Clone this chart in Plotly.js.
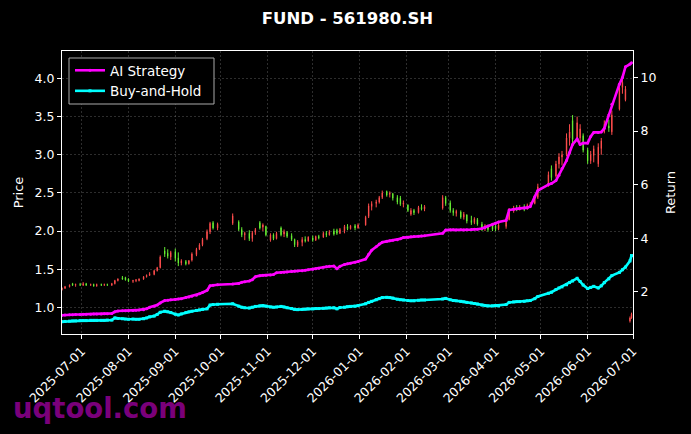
<!DOCTYPE html>
<html><head><meta charset="utf-8">
<script src="https://cdn.plot.ly/plotly-3.0.1.min.js"></script>
<style>html,body{margin:0;padding:0;background:#000;}#chart{width:691px;height:434px;}</style>
</head><body><div id="chart"></div>
<script>
const dates = [
'2025-06-18','2025-06-20','2025-06-23','2025-06-25','2025-06-27','2025-06-30',
'2025-07-02','2025-07-04','2025-07-07','2025-07-09','2025-07-11','2025-07-14','2025-07-16','2025-07-18','2025-07-21','2025-07-23','2025-07-25','2025-07-28','2025-07-30',
'2025-08-01','2025-08-04','2025-08-06','2025-08-08','2025-08-11','2025-08-13','2025-08-15','2025-08-18','2025-08-20','2025-08-22','2025-08-25','2025-08-27','2025-08-29',
'2025-09-01','2025-09-03','2025-09-05','2025-09-08','2025-09-10','2025-09-12','2025-09-15','2025-09-17','2025-09-19','2025-09-22','2025-09-24','2025-09-26','2025-09-29',
'2025-10-09','2025-10-13','2025-10-15','2025-10-17','2025-10-20','2025-10-22','2025-10-24','2025-10-27','2025-10-29','2025-10-31',
'2025-11-03','2025-11-05','2025-11-07','2025-11-10','2025-11-12','2025-11-14','2025-11-17','2025-11-19','2025-11-21','2025-11-24','2025-11-26','2025-11-28',
'2025-12-01','2025-12-03','2025-12-05','2025-12-08','2025-12-10','2025-12-12','2025-12-15','2025-12-17','2025-12-19','2025-12-22','2025-12-24','2025-12-26','2025-12-29','2025-12-31',
'2026-01-05','2026-01-07','2026-01-09','2026-01-12','2026-01-14','2026-01-16','2026-01-19','2026-01-21','2026-01-23','2026-01-26','2026-01-28','2026-01-30',
'2026-02-02','2026-02-04','2026-02-06','2026-02-09','2026-02-11','2026-02-13','2026-02-25','2026-02-27',
'2026-03-02','2026-03-04','2026-03-06','2026-03-09','2026-03-11','2026-03-13','2026-03-16','2026-03-18','2026-03-20','2026-03-23','2026-03-25','2026-03-27','2026-03-30',
'2026-04-01','2026-04-03','2026-04-08','2026-04-10','2026-04-13','2026-04-15','2026-04-17','2026-04-20','2026-04-22','2026-04-24','2026-04-27','2026-04-29',
'2026-05-06','2026-05-08','2026-05-11','2026-05-13','2026-05-15','2026-05-18','2026-05-20','2026-05-22','2026-05-25','2026-05-27','2026-05-29',
'2026-06-01','2026-06-03','2026-06-05','2026-06-08','2026-06-10','2026-06-12','2026-06-15','2026-06-17','2026-06-22','2026-06-24','2026-06-26','2026-06-29','2026-06-30'
];
const openP = [
1.23,1.25,1.27,1.31,1.29,1.30,
1.29,1.31,1.29,1.30,1.28,1.30,1.29,1.30,1.29,1.31,1.35,1.39,1.39,
1.37,1.34,1.35,1.35,1.37,1.40,1.42,1.43,1.48,1.52,1.74,1.71,1.66,
1.73,1.65,1.58,1.60,1.57,1.62,1.69,1.76,1.82,1.90,1.99,2.11,2.04,
2.10,2.12,2.02,1.95,1.97,1.90,1.98,2.11,2.05,2.06,
1.88,1.95,1.90,2.04,1.96,1.98,1.94,1.89,1.81,1.85,1.89,1.87,
1.91,1.88,1.93,1.92,1.97,1.95,2.00,2.01,1.97,2.00,2.06,2.03,2.07,2.04,
2.08,2.19,2.32,2.36,2.38,2.44,2.52,2.48,2.49,2.44,2.43,2.35,
2.34,2.22,2.27,2.24,2.31,2.29,2.30,2.44,
2.37,2.27,2.23,2.25,2.18,2.21,2.14,2.11,2.15,2.09,2.03,2.07,2.08,
2.07,2.03,2.06,2.15,2.27,2.30,2.28,2.32,2.29,2.34,2.36,2.44,
2.60,2.82,2.72,2.88,2.97,3.00,3.22,3.45,3.22,3.22,3.25,
3.06,2.92,2.99,2.88,3.08,3.30,3.38,3.30,3.60,3.88,3.72,0.82,0.86
];
const highP = [
1.26,1.28,1.30,1.32,1.31,1.32,
1.33,1.32,1.31,1.31,1.31,1.31,1.31,1.31,1.32,1.36,1.38,1.41,1.40,
1.38,1.36,1.37,1.38,1.41,1.43,1.46,1.49,1.53,1.68,1.79,1.76,1.74,
1.77,1.72,1.63,1.62,1.62,1.72,1.78,1.84,1.91,2.02,2.12,2.13,2.11,
2.23,2.14,2.05,1.99,2.01,2.00,2.04,2.13,2.10,2.07,
1.97,1.97,1.99,2.06,2.02,2.00,1.97,1.90,1.88,1.92,1.93,1.93,
1.94,1.94,1.95,1.99,2.00,2.01,2.03,2.03,2.04,2.08,2.09,2.08,2.09,2.10,
2.20,2.36,2.39,2.41,2.46,2.53,2.53,2.52,2.50,2.47,2.46,2.40,
2.35,2.30,2.29,2.33,2.35,2.34,2.47,2.46,
2.40,2.30,2.28,2.27,2.25,2.22,2.20,2.18,2.17,2.12,2.09,2.08,2.10,
2.09,2.12,2.16,2.30,2.33,2.34,2.34,2.35,2.36,2.38,2.46,2.62,
2.78,2.86,2.92,3.02,3.05,3.28,3.40,3.52,3.50,3.40,3.28,
3.09,3.05,3.12,3.15,3.22,3.45,3.46,3.58,3.92,4.05,3.90,0.88,0.93
];
const lowP = [
1.22,1.24,1.26,1.28,1.27,1.28,
1.28,1.28,1.28,1.27,1.27,1.28,1.28,1.28,1.28,1.30,1.34,1.36,1.35,
1.33,1.32,1.33,1.34,1.36,1.39,1.41,1.42,1.47,1.51,1.66,1.64,1.62,
1.60,1.54,1.55,1.55,1.56,1.60,1.67,1.75,1.80,1.88,1.96,2.02,2.01,
2.08,2.00,1.92,1.88,1.87,1.86,1.95,2.02,2.00,1.93,
1.86,1.88,1.89,1.93,1.92,1.91,1.87,1.79,1.79,1.80,1.85,1.86,
1.86,1.87,1.89,1.91,1.92,1.94,1.94,1.95,1.96,1.97,2.01,2.02,2.01,2.03,
2.07,2.17,2.27,2.31,2.36,2.42,2.45,2.44,2.40,2.35,2.33,2.31,
2.25,2.20,2.21,2.23,2.27,2.26,2.28,2.33,
2.24,2.20,2.19,2.16,2.15,2.10,2.08,2.09,2.07,2.00,2.00,1.99,2.00,
2.00,2.01,2.03,2.14,2.24,2.26,2.27,2.26,2.28,2.30,2.35,2.42,
2.58,2.66,2.70,2.82,2.86,2.98,3.12,3.15,3.18,3.17,3.03,
2.88,2.88,2.90,2.84,3.00,3.28,3.30,3.26,3.58,3.80,3.70,0.80,0.85
];
const closeP = [
1.25,1.27,1.29,1.29,1.30,1.29,
1.31,1.29,1.30,1.28,1.30,1.29,1.30,1.29,1.31,1.35,1.37,1.37,1.36,
1.34,1.35,1.36,1.37,1.40,1.42,1.44,1.48,1.52,1.66,1.70,1.67,1.72,
1.64,1.58,1.61,1.57,1.61,1.70,1.76,1.82,1.89,1.99,2.10,2.04,2.09,
2.20,2.02,1.95,1.97,1.90,1.98,2.02,2.04,2.08,1.95,
1.95,1.90,1.97,1.95,1.99,1.93,1.89,1.82,1.86,1.89,1.87,1.92,
1.88,1.93,1.91,1.97,1.95,1.99,1.96,1.97,2.02,2.06,2.03,2.07,2.04,2.08,
2.18,2.33,2.36,2.38,2.44,2.50,2.47,2.50,2.43,2.38,2.35,2.37,
2.27,2.27,2.24,2.31,2.29,2.32,2.44,2.36,
2.27,2.24,2.26,2.18,2.22,2.13,2.11,2.16,2.09,2.03,2.07,2.02,2.02,
2.03,2.08,2.14,2.27,2.30,2.28,2.32,2.29,2.34,2.36,2.44,2.58,
2.74,2.70,2.88,2.97,3.00,3.22,3.30,3.20,3.42,3.34,3.06,
2.92,3.00,3.08,3.10,3.18,3.40,3.35,3.52,3.88,3.95,3.86,0.86,0.91
];
const aiReturn = [
1.12,1.13,1.14,1.14,1.15,1.15,
1.16,1.16,1.16,1.17,1.17,1.17,1.18,1.18,1.19,1.25,1.28,1.29,1.29,
1.29,1.30,1.31,1.32,1.33,1.36,1.42,1.46,1.50,1.58,1.67,1.68,1.70,
1.71,1.73,1.74,1.78,1.80,1.83,1.87,1.92,1.97,2.05,2.22,2.24,2.26,
2.29,2.31,2.35,2.37,2.40,2.45,2.56,2.60,2.61,2.61,
2.62,2.64,2.71,2.72,2.73,2.74,2.75,2.76,2.77,2.78,2.80,2.82,
2.84,2.86,2.88,2.91,2.93,2.95,2.96,2.86,2.95,3.02,3.04,3.06,3.10,3.13,
3.22,3.40,3.55,3.68,3.78,3.85,3.88,3.90,3.92,3.94,3.98,4.02,
4.03,4.05,4.06,4.07,4.08,4.09,4.18,4.30,
4.31,4.31,4.30,4.31,4.30,4.31,4.32,4.33,4.33,4.36,4.40,4.45,4.52,
4.56,4.60,4.66,5.05,5.08,5.10,5.12,5.13,5.14,5.18,5.55,5.78,
6.00,6.04,6.15,6.35,6.60,6.90,7.20,7.50,7.70,7.50,7.55,
7.55,7.80,7.95,7.95,7.96,8.10,8.60,9.00,9.75,10.00,10.40,10.50,10.55
];
const bhReturn = [
0.88,0.89,0.90,0.91,0.91,0.92,
0.92,0.92,0.93,0.93,0.93,0.93,0.93,0.94,0.94,1.02,1.00,0.99,0.98,
0.97,0.98,0.97,0.97,0.99,1.02,1.06,1.09,1.15,1.23,1.27,1.25,1.22,
1.16,1.13,1.17,1.22,1.25,1.27,1.30,1.32,1.34,1.36,1.50,1.52,1.53,
1.55,1.46,1.42,1.40,1.39,1.42,1.45,1.47,1.48,1.46,
1.43,1.42,1.43,1.45,1.43,1.40,1.37,1.34,1.33,1.34,1.35,1.36,
1.36,1.37,1.37,1.38,1.39,1.40,1.40,1.36,1.41,1.42,1.44,1.45,1.46,1.48,
1.55,1.60,1.64,1.70,1.74,1.78,1.79,1.78,1.76,1.72,1.70,1.69,
1.67,1.66,1.66,1.68,1.69,1.69,1.73,1.75,
1.70,1.67,1.66,1.64,1.62,1.60,1.58,1.56,1.54,1.50,1.48,1.47,1.47,
1.48,1.47,1.52,1.60,1.62,1.63,1.63,1.64,1.66,1.67,1.74,1.82,
1.94,1.98,2.08,2.14,2.18,2.26,2.34,2.40,2.50,2.38,2.25,
2.12,2.16,2.20,2.14,2.22,2.34,2.48,2.60,2.72,2.82,2.92,3.15,3.35
];
const xTicks = ['2025-07-01','2025-08-01','2025-09-01','2025-10-01','2025-11-01','2025-12-01','2026-01-01','2026-02-01','2026-03-01','2026-04-01','2026-05-01','2026-06-01','2026-07-01'];
const priceTicks = [1.0,1.5,2.0,2.5,3.0,3.5,4.0];
const returnTicks = [2,4,6,8,10];

const FONT = 'DejaVu Sans, sans-serif';
const traces = [
  {type:'candlestick', x:dates, open:openP, high:highP, low:lowP, close:closeP,
   increasing:{line:{color:'#ff4d4d', width:1}, fillcolor:'#ff4d4d'},
   decreasing:{line:{color:'#66ee33', width:1}, fillcolor:'#66ee33'},
   whiskerwidth:0, showlegend:false, hoverinfo:'skip', xaxis:'x', yaxis:'y'},
  {type:'scatter', mode:'lines+markers', name:'AI Strategy', x:dates, y:aiReturn,
   line:{color:'#ff00ff', width:2.6}, marker:{color:'#ff00ff', size:3, symbol:'circle'}, xaxis:'x', yaxis:'y2'},
  {type:'scatter', mode:'lines+markers', name:'Buy-and-Hold', x:dates, y:bhReturn,
   line:{color:'#00ffff', width:2.6}, marker:{color:'#00ffff', size:3, symbol:'square'}, xaxis:'x', yaxis:'y2'}
];
const gridC = 'rgba(150,150,150,0.5)';
const px2x = p => (p-62)/571;
const px2y = p => (334-p)/283;
const layout = {
  width:691, height:434,
  paper_bgcolor:'#000', plot_bgcolor:'#000',
  font:{family:FONT, color:'#fff', size:12.5},
  margin:{l:62, r:58, t:51, b:100, pad:0},
  title:{text:'<b>FUND - 561980.SH</b>', font:{family:FONT, size:16.5, color:'#fff'}, x:0.5, xref:'paper', y:1-18/434, yanchor:'middle'},
  boxgap:0.6,
  showlegend:true,
  legend:{x:px2x(70), y:px2y(55), xanchor:'left', yanchor:'top', bgcolor:'rgba(0,0,0,0)', borderwidth:0,
          font:{family:FONT, size:13.5, color:'#fff'}},
  shapes:[
    {type:'rect', xref:'paper', yref:'paper', x0:px2x(69), x1:px2x(214), y0:px2y(104), y1:px2y(58),
     line:{color:'#aaaaaa', width:1}, fillcolor:'#000', layer:'above'}
  ],
  xaxis:{type:'date', range:['2025-06-18','2026-07-01'], rangeslider:{visible:false},
         tickvals:xTicks, ticktext:xTicks, tickangle:-45, ticks:'outside', ticklen:4, tickcolor:'#fff',
         showline:true, linecolor:'#fff', linewidth:1, mirror:true,
         showgrid:true, gridcolor:gridC, griddash:'2px,2px', gridwidth:0.6, zeroline:false,
         tickfont:{family:FONT, size:12.5, color:'#fff'}},
  yaxis:{range:[0.65,4.36], tickvals:priceTicks, tickformat:'.1f', ticks:'outside', ticklen:4, tickcolor:'#fff',
         showline:true, linecolor:'#fff', linewidth:1,
         showgrid:true, gridcolor:gridC, griddash:'2px,2px', gridwidth:0.6, zeroline:false,
         title:{text:'Price', font:{family:FONT, size:13, color:'#fff'}, standoff:8},
         tickfont:{family:FONT, size:12.5, color:'#fff'}},
  yaxis2:{overlaying:'y', side:'right', range:[0.42,10.99], tickvals:returnTicks, ticks:'outside', ticklen:4, tickcolor:'#fff',
         showline:true, linecolor:'#fff', linewidth:1, showgrid:false, zeroline:false,
         title:{text:'Return', font:{family:FONT, size:13, color:'#fff'}, standoff:10},
         tickfont:{family:FONT, size:12.5, color:'#fff'}},
  annotations:[
    {text:'<b>uqtool.com</b>', xref:'paper', yref:'paper', x:px2x(11), y:px2y(408), xanchor:'left', yanchor:'middle',
     showarrow:false, font:{family:FONT, size:27.5, color:'rgba(140,0,140,0.9)'}}
  ]
};
Plotly.newPlot('chart', traces, layout, {displayModeBar:false, staticPlot:true});
</script>
</body></html>
